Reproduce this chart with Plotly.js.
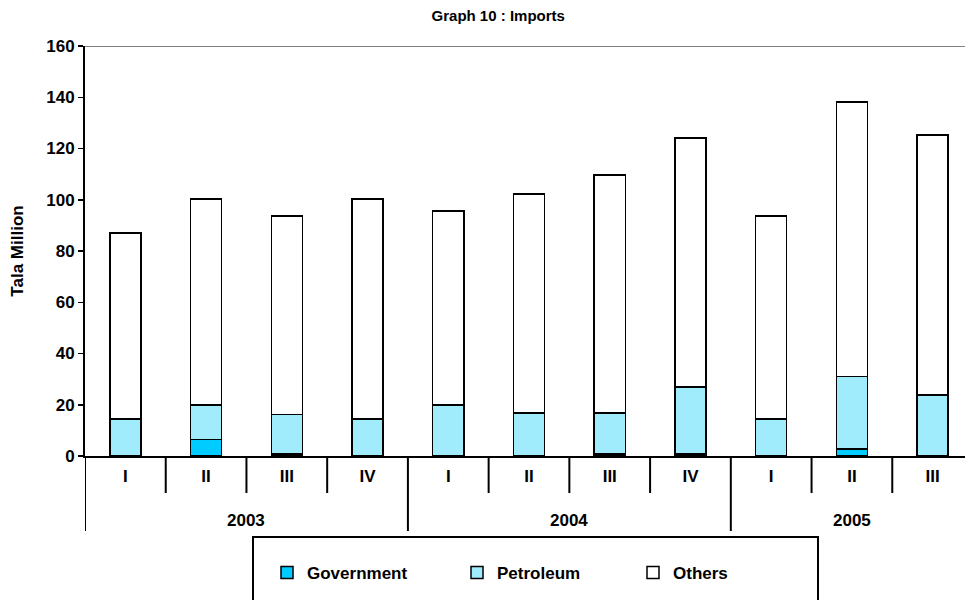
<!DOCTYPE html>
<html>
<head>
<meta charset="utf-8">
<script src="https://cdn.plot.ly/plotly-3.0.1.min.js"></script>
<style>
html, body { margin: 0; padding: 0; overflow: hidden; background: #fff; }
#chart { width: 975px; height: 600px; }
</style>
</head>
<body>
<div id="chart"></div>
<script>
const years = ["2003", "2003", "2003", "2003", "2004", "2004", "2004", "2004", "2005", "2005", "2005"];
const quarters = ["I", "II", "III", "IV", "I", "II", "III", "IV", "I", "II", "III"];
const government = [0, 6.5, 0.7, 0, 0, 0, 0.7, 0.7, 0, 2.7, 0];
const petroleum = [14.4, 13.4, 15.4, 14.4, 19.9, 16.7, 16.0, 26.2, 14.4, 28.3, 23.9];
const others = [72.6, 80.4, 77.6, 85.9, 75.7, 85.5, 93.0, 97.2, 79.3, 107.1, 101.4];

const FONT = "Liberation Sans, Arial, sans-serif";
const lineStyle = { color: "#000000", width: 1.5 };
const cats = years.map((y, i) => y + " " + quarters[i]);

const traces = [
  { name: "Government", x: cats, y: government, type: "bar", legendwidth: 145,
    marker: { color: "#00CCFF", line: lineStyle } },
  { name: "Petroleum", x: cats, y: petroleum, type: "bar", legendwidth: 131,
    marker: { color: "#A0ECFC", line: lineStyle } },
  { name: "Others", x: cats, y: others, type: "bar",
    marker: { color: "#FFFFFF", line: lineStyle } }
];

// plot area: top 46, bottom 456 (height 410)
const PH = 410;
const py = (px) => -(px - 456) / PH;

const shapes = [
  { type: "line", xref: "paper", yref: "y", x0: 0, x1: 1, y0: 160, y1: 160,
    line: { color: "#808080", width: 2 } },
  { type: "rect", xref: "paper", yref: "paper", x0: (253 - 85) / 888, x1: (818 - 85) / 888,
    y0: py(537), y1: py(606), line: { color: "#000", width: 2 }, fillcolor: "rgba(0,0,0,0)" }
];
for (let i = 0; i <= cats.length; i++) {
  const isDivider = (i === 0 || i === cats.length || years[i] !== years[i - 1]);
  shapes.push({ type: "line", xref: "x", yref: "paper", x0: i - 0.5, x1: i - 0.5,
    y0: 0, y1: isDivider ? py(531) : py(493), line: { color: "#000", width: 2 } });
}
const annotations = [];
const uniqueYears = [...new Set(years)];
uniqueYears.forEach((yr) => {
  const first = years.indexOf(yr), last = years.lastIndexOf(yr);
  annotations.push({ text: yr, xref: "x", yref: "paper", x: (first + last) / 2, y: py(520),
    xanchor: "center", yanchor: "middle", showarrow: false,
    font: { family: FONT, size: 17, weight: "bold", color: "#000" } });
});

const layout = {
  width: 975, height: 600,
  margin: { l: 85, r: 2, t: 46, b: 144, autoexpand: false },
  barmode: "stack",
  bargap: 0.615,
  paper_bgcolor: "#ffffff",
  plot_bgcolor: "#ffffff",
  font: { family: FONT, color: "#000000", size: 17, weight: "bold" },
  title: { text: "Graph 10 : Imports", xref: "container", x: 0.511, xanchor: "center",
           y: 0.973, yanchor: "middle", font: { family: FONT, size: 15, weight: "bold", color: "#000" } },
  xaxis: {
    type: "category",
    tickvals: cats, ticktext: quarters,
    showgrid: false,
    showline: true, linecolor: "#000", linewidth: 2,
    ticks: "outside", ticklen: 4, tickcolor: "rgba(0,0,0,0)",
    tickfont: { family: FONT, size: 17, weight: "bold", color: "#000" },
    range: [-0.5, 10.5],
    fixedrange: true
  },
  yaxis: {
    range: [0, 160], dtick: 20, tick0: 0,
    showgrid: false, zeroline: false,
    showline: true, linecolor: "#000", linewidth: 2,
    ticks: "outside", ticklen: 5, tickwidth: 1.5, tickcolor: "#000",
    tickfont: { family: FONT, size: 17, weight: "bold", color: "#000" },
    title: { text: "Tala Million", standoff: 18, font: { family: FONT, size: 17, weight: "bold", color: "#000" } },
    fixedrange: true
  },
  showlegend: true,
  legend: {
    orientation: "h", xref: "paper", x: (267 - 85) / 888, xanchor: "left",
    yref: "container", y: 1 - 573 / 600, yanchor: "middle",
    traceorder: "normal", borderwidth: 0, bgcolor: "rgba(0,0,0,0)",
    font: { family: FONT, size: 17, weight: "bold", color: "#000" }
  },
  shapes: shapes,
  annotations: annotations
};

Plotly.newPlot("chart", traces, layout, { displayModeBar: false, staticPlot: true });
</script>
</body>
</html>
